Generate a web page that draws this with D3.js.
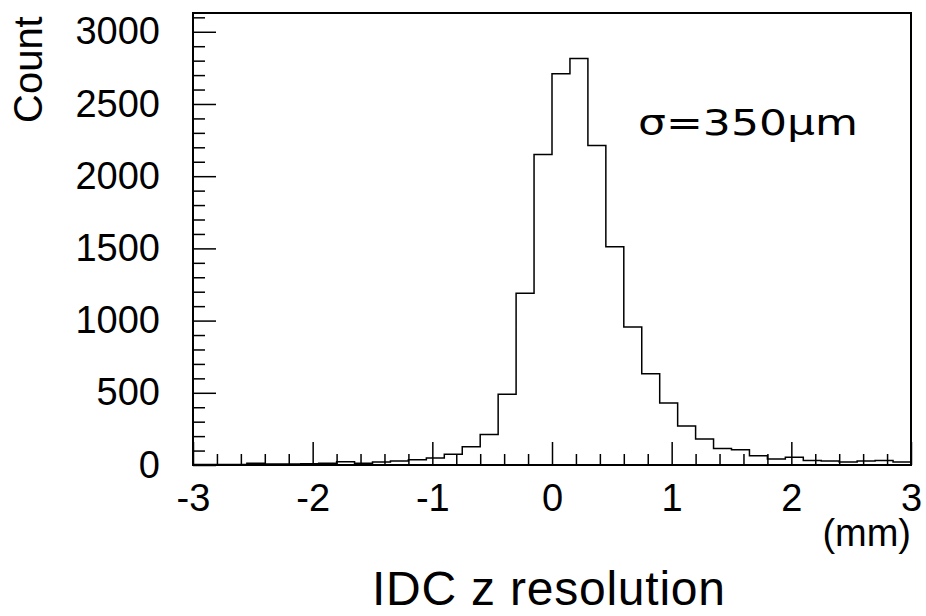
<!DOCTYPE html>
<html>
<head>
<meta charset="utf-8">
<script src="https://cdn.jsdelivr.net/npm/d3@7"></script>
<style>
  body { margin: 0; background: #fff; }
  svg { display: block; font-family: "Liberation Sans", Arial, sans-serif; }
  .domain { display: none; }
</style>
</head>
<body>
<svg id="chart" width="926" height="616"></svg>
<script>
'use strict';

// bin lower edges (mm), bin width 0.15
const binEdges = [-3, -2.85, -2.7, -2.55, -2.4, -2.25, -2.1, -1.95, -1.8, -1.65,
  -1.5, -1.35, -1.2, -1.05, -0.9, -0.75, -0.6, -0.45, -0.3, -0.15,
  0, 0.15, 0.3, 0.45, 0.6, 0.75, 0.9, 1.05, 1.2, 1.35,
  1.5, 1.65, 1.8, 1.95, 2.1, 2.25, 2.4, 2.55, 2.7, 2.85, 3];
const counts = [3, 3, 4, 12, 7, 7, 8, 12, 23, 12,
  21, 28, 37, 48, 74, 127, 212, 490, 1190, 2150,
  2710, 2815, 2213, 1512, 955, 632, 429, 270, 180, 115,
  106, 64, 41, 53, 32, 28, 21, 28, 32, 21];
const xTicks = [-3, -2, -1, 0, 1, 2, 3];
const yTicks = [0, 500, 1000, 1500, 2000, 2500, 3000];
const xRange = [-3, 3];
const yRange = [0, 3130];

const svg = d3.select("#chart");
const MARGINS = {top: 13, right: 15, bottom: 151, left: 193};
const WIDTH = +svg.attr("width") - MARGINS.left - MARGINS.right;
const HEIGHT = +svg.attr("height") - MARGINS.top - MARGINS.bottom;
const g = svg.append("g").attr("transform", "translate(" + MARGINS.left + "," + MARGINS.top + ")");

const x = d3.scaleLinear().domain(xRange).range([0, WIDTH]);
const y = d3.scaleLinear().domain(yRange).range([HEIGHT, 0]);

// minor ticks
const xMinor = d3.range(-3, 3.001, 0.2).map(v => +v.toFixed(2)).filter(v => !xTicks.includes(v));
const yMinor = d3.range(0, 3101, 100).filter(v => !yTicks.includes(v));
const plain = d => String(d);

g.append("g")
 .attr("transform", "translate(0," + HEIGHT + ")")
 .call(d3.axisBottom(x).tickValues(xMinor).tickSize(-11).tickFormat(""));
g.append("g")
 .attr("transform", "translate(0," + HEIGHT + ")")
 .call(d3.axisBottom(x).tickValues(xTicks).tickSize(-23).tickPadding(19).tickFormat(plain));
g.append("g")
 .call(d3.axisLeft(y).tickValues(yMinor).tickSize(-12).tickFormat(""));
g.append("g")
 .call(d3.axisLeft(y).tickValues(yTicks).tickSize(-23).tickPadding(33).tickFormat(plain));

g.selectAll(".tick line").attr("stroke", "#000").attr("stroke-width", 1.5);
g.selectAll(".tick text")
 .attr("fill", "#000")
 .style("font-size", "38px");

// histogram outline
const line = d3.line()
  .x(d => x(d[0]))
  .y(d => y(d[1]))
  .curve(d3.curveStepAfter);
const steps = counts.map((c, i) => [binEdges[i], c]);
steps.push([binEdges[binEdges.length - 1], counts[counts.length - 1]]);
g.append("path")
 .attr("fill", "none")
 .attr("stroke", "#000")
 .attr("stroke-width", 1.5)
 .attr("d", line(steps));

// frame
g.append("rect")
 .attr("x", 0).attr("y", 0)
 .attr("width", WIDTH).attr("height", HEIGHT)
 .attr("fill", "none")
 .attr("stroke", "#000")
 .attr("stroke-width", 2);

// titles
svg.append("text")
   .attr("transform", "translate(42,123) rotate(-90)")
   .style("font-size", "40px")
   .text("Count");
svg.append("text")
   .attr("x", MARGINS.left + WIDTH).attr("y", 546)
   .attr("text-anchor", "end")
   .style("font-size", "38px")
   .text("(mm)");
svg.append("text")
   .attr("x", 372).attr("y", 605)
   .attr("textLength", 353)
   .style("font-size", "48px")
   .text("IDC z resolution");
svg.append("text")
   .attr("x", 638).attr("y", 135)
   .style("font-family", "'DejaVu Sans', sans-serif")
   .style("font-size", "36px")
   .attr("textLength", 220)
   .attr("lengthAdjust", "spacingAndGlyphs")
   .text("σ=350μm");
</script>
</body>
</html>
